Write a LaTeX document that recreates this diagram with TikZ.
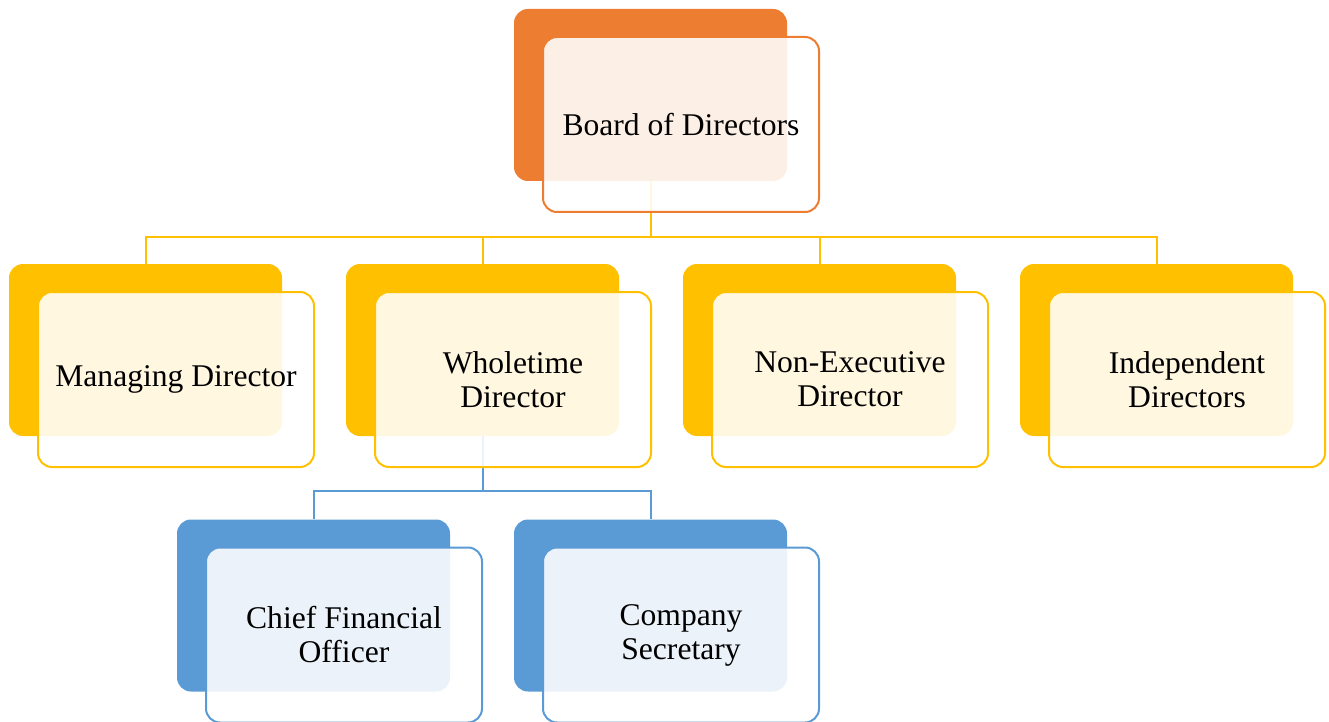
\documentclass[tikz,border=0pt]{standalone}
\usepackage{fontspec}
\setmainfont{Liberation Serif}
\usepackage{xcolor}
\definecolor{boardorange}{HTML}{ED7D31}
\definecolor{levelgold}{HTML}{FFC000}
\definecolor{staffblue}{HTML}{5B9BD5}

\begin{document}
\begin{tikzpicture}[
			     back box/.style={rectangle, rounded corners=7pt, inner sep=0pt,
			       minimum width=136.5pt, minimum height=86pt},
			     front box/.style={rectangle, rounded corners=7pt, inner sep=0pt, draw, line width=1pt,
			       fill=white, fill opacity=0.88, text opacity=1, align=center,
			       minimum width=138pt, minimum height=87.5pt, font=\fontsize{15.8}{17}\selectfont},
			     link/.style={line width=1pt},
			     offset/.style={shift={(15.25pt,-14.75pt)}}
			     ]
\useasboundingbox (0,0) rectangle (664.5pt,-361pt);

% back boxes
\node[back box, fill=boardorange] (bod) at (325.25pt,-47.5pt) {};
\node[back box, fill=levelgold] (md) at (72.75pt,-175pt) {};
\node[back box, fill=levelgold] (wd) at (241.25pt,-175pt) {};
\node[back box, fill=levelgold] (ned) at (409.75pt,-175pt) {};
\node[back box, fill=levelgold] (ind) at (578.25pt,-175pt) {};
\node[back box, fill=staffblue] (cfo) at (156.75pt,-302.75pt) {};
\node[back box, fill=staffblue] (cs) at (325.25pt,-302.75pt) {};

% connectors
\draw[link, levelgold] (bod.south) -- ++(0,-28pt) coordinate (bus);
\draw[link, levelgold] (bus) -| (md.north);
\draw[link, levelgold] (bus) -| (wd.north);
\draw[link, levelgold] (bus) -| (ned.north);
\draw[link, levelgold] (bus) -| (ind.north);
\draw[link, staffblue] (wd.south) -- ++(0,-27.5pt) coordinate (subbus);
\draw[link, staffblue] (subbus) -| (cfo.north);
\draw[link, staffblue] (subbus) -| (cs.north);

% front boxes
\node[front box, draw=boardorange] (bodf) at ([offset]bod.center) {Board of Directors};
\node[front box, draw=levelgold] (mdf) at ([offset]md.center) {Managing Director};
\node[front box, draw=levelgold] (wdf) at ([offset]wd.center) {Wholetime\\Director};
\node[front box, draw=levelgold] (nedf) at ([offset]ned.center) {Non-Executive\\Director};
\node[front box, draw=levelgold] (indf) at ([offset]ind.center) {Independent\\Directors};
\node[front box, draw=staffblue] (cfof) at ([offset]cfo.center) {Chief Financial\\Officer};
\node[front box, draw=staffblue] (csf) at ([offset]cs.center) {Company\\Secretary};
\end{tikzpicture}
\end{document}
